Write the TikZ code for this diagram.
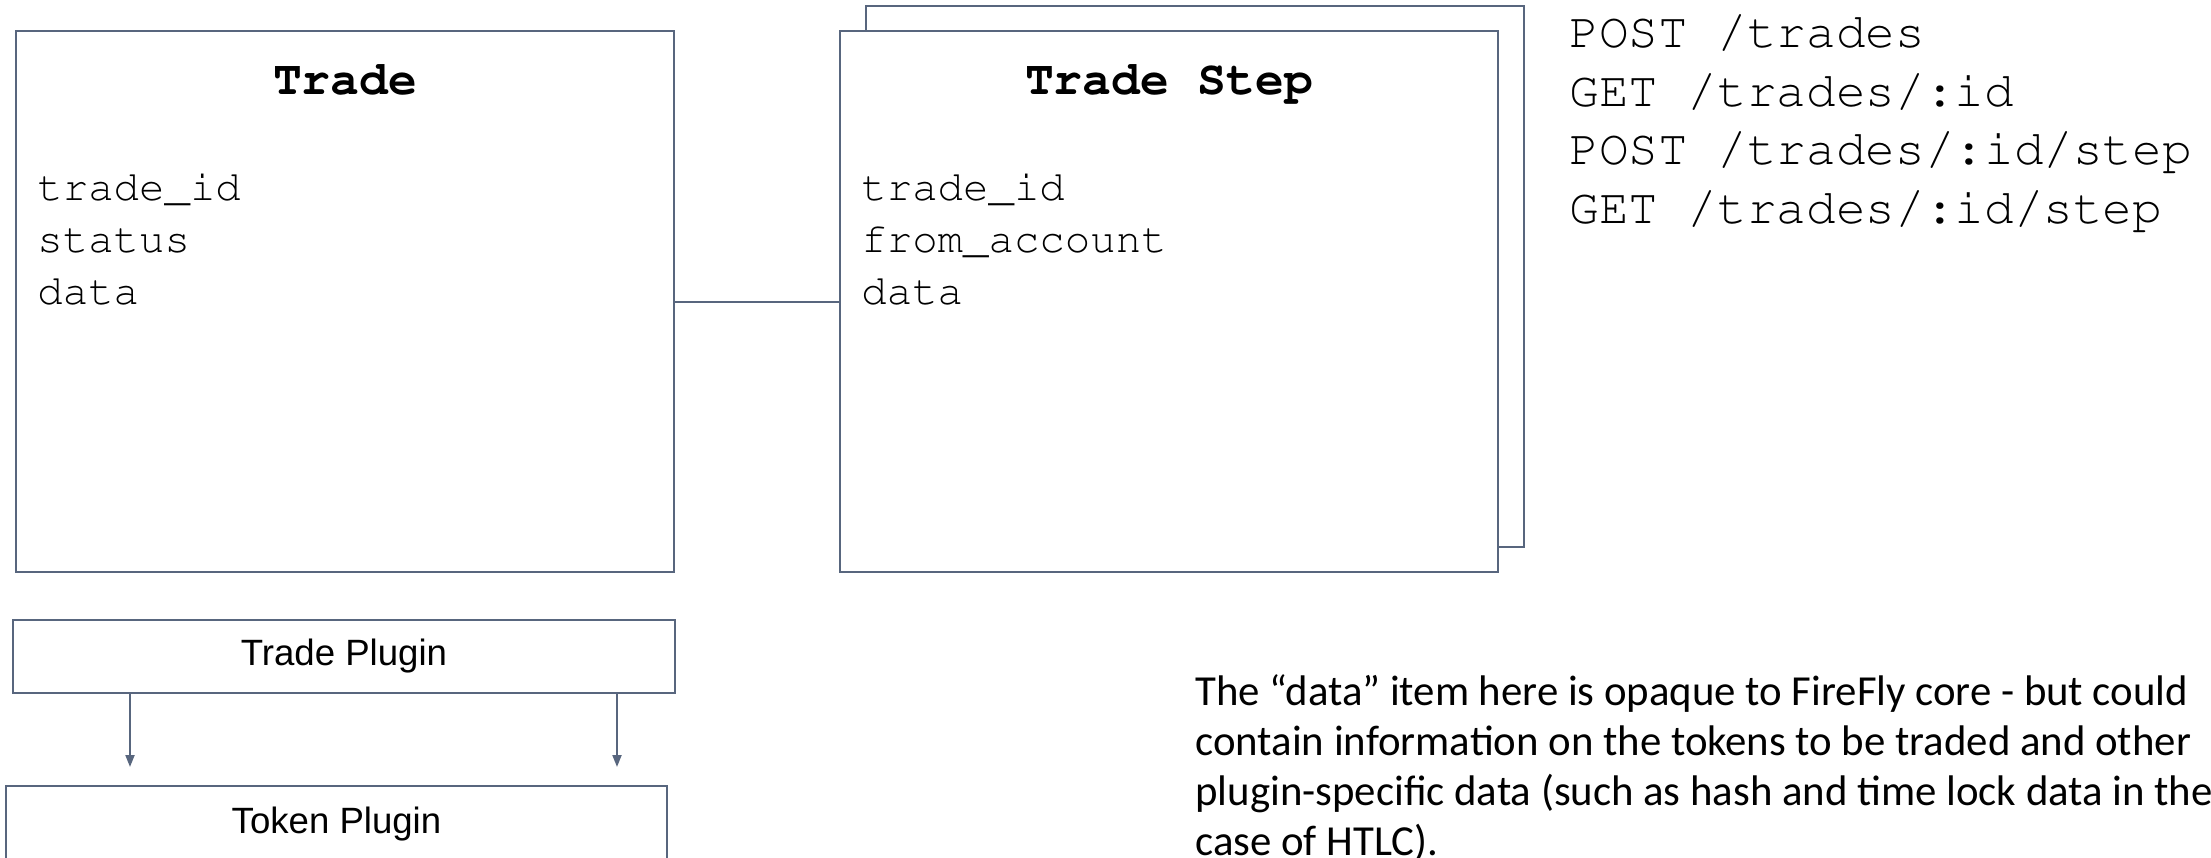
\documentclass[tikz,border=0pt]{standalone}
\usepackage[T1]{fontenc}
\usepackage{fontspec}
\setsansfont{Liberation Sans}
\newfontfamily\notefont{Carlito}
\newcommand\courierfont{\fontencoding{T1}\fontfamily{pcr}\selectfont}
\definecolor{edgegray}{HTML}{58667E}
\usetikzlibrary{arrows.meta, positioning}

\begin{document}
\begin{tikzpicture}[x=0.5pt, y=-0.5pt,
        entity/.style={draw=edgegray, line width=1pt, fill=white,
                       minimum width=329pt, minimum height=270.5pt, inner sep=0pt},
        plugin/.style={draw=edgegray, line width=1pt, fill=white,
                       minimum width=331pt, minimum height=36.5pt, inner sep=0pt,
                       font=\sffamily\fontsize{18.3}{22}\selectfont},
        title/.style={anchor=base, inner sep=0pt,
                      font=\courierfont\bfseries\fontsize{24}{29}\selectfont},
        field/.style={anchor=base west, inner sep=0pt,
                      font=\courierfont\fontsize{21.2}{26}\selectfont},
        api/.style={anchor=base west, inner sep=0pt,
                    font=\courierfont\fontsize{24.7}{29}\selectfont},
        link/.style={draw=edgegray, line width=1pt},
        arr/.style={-{Triangle[length=6pt, width=4.5pt]}, edgegray, line width=1pt}
      ]
        \useasboundingbox (0,0) rectangle (2211,857);

        \node[entity] (stepback) at (1194.5,276.5) {};
        \node[entity] (trade) at (345,301.5) {};
        \node[entity] (step) at (1169,301.5) {};
        \draw[link] (trade) -- (step);

        \node[title] (tradename) at (345,94) {Trade};
        \node[field] (tradeid) at (37,200) {trade\_id};
        \node[field] (status) at (37,252) {status};
        \node[field] (tradedata) at (37,304) {data};

        \node[title] (stepname) at (1169,94) {Trade Step};
        \node[field] (stepid) at (861,200) {trade\_id};
        \node[field] (fromacct) at (861,252) {from\_account};
        \node[field] (stepdata) at (861,304) {data};

        \node[api] (post1) at (1569,47) {POST /trades};
        \node[api] (get1) at (1569,106) {GET /trades/:id};
        \node[api] (post2) at (1569,164) {POST /trades/:id/step};
        \node[api] (get2) at (1569,223) {GET /trades/:id/step};

        \node[plugin] (tradeplugin) at (344,656.5) {Trade Plugin};
        \node[plugin, minimum width=330.5pt, minimum height=38pt] (tokenplugin) at (336.5,824) {Token Plugin};

        \coordinate (tipleft) at (130,767);
        \coordinate (tipright) at (617,767);
        \draw[arr] (tradeplugin.south -| tipleft) -- (tipleft);
        \draw[arr] (tradeplugin.south -| tipright) -- (tipright);

        \node[anchor=base west, inner sep=0pt, align=left,
              font=\notefont\fontsize{21.4}{25}\selectfont] (note) at (1195,855)
          {The “data” item here is opaque to FireFly core - but could\\
           contain information on the tokens to be traded and other\\
           plugin-specific data (such as hash and time lock data in the\\
           case of HTLC).};
      \end{tikzpicture}
\end{document}
